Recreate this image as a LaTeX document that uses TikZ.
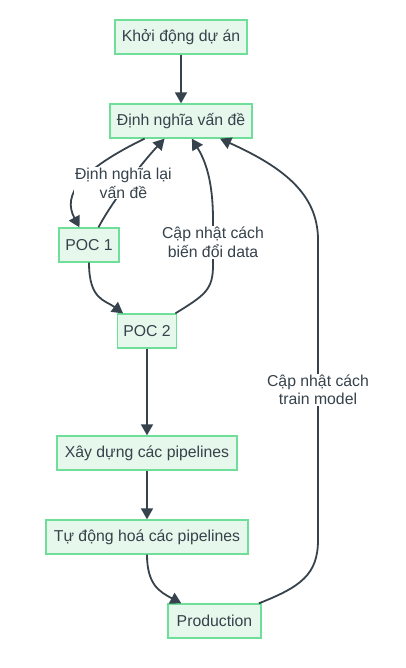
\documentclass[tikz,border=0pt]{standalone}
\usepackage{fontspec}
\setmainfont{Liberation Sans}
\usetikzlibrary{calc}
\usetikzlibrary{arrows.meta}
\definecolor{boxline}{RGB}{110,222,152}
\definecolor{boxfill}{RGB}{230,248,235}
\definecolor{ink}{RGB}{54,66,76}
\tikzset{
 box/.style={draw=boxline, fill=boxfill, line width=1.3pt, text=ink, minimum height=34pt, inner xsep=2pt, font=\fontsize{15.8}{18.5}\selectfont},
 lbl/.style={fill=white, text=ink, align=center, inner sep=1pt, font=\fontsize{15.8}{18.5}\selectfont},
 flow/.style={draw=ink, line width=1.8pt, -{Triangle[length=11pt,width=12pt]}}
}
\begin{document}
\begin{tikzpicture} [x=1pt, y=-1pt]
\useasboundingbox (0,0) rectangle (406,668);
\node[box, minimum width=132pt] (start) at (181,37) {Khởi động dự án};
\node[box, minimum width=142pt] (define) at (181,121) {Định nghĩa vấn đề};
\node[box, minimum width=60pt] (poc1) at (89,245) {POC 1};
\node[box, minimum width=59pt] (poc2) at (147,331) {POC 2};
\node[box, minimum width=180pt] (build) at (147,453) {Xây dựng các pipelines};
\node[box, minimum width=202pt] (auto) at (147,537) {Tự động hoá các pipelines};
\node[box, minimum width=93pt] (prod) at (214.5,621) {Production};
\draw[flow] (start) -- (define);
\draw[flow] (define) .. controls (80,170) and (62,195) .. (poc1);
\draw[flow] (poc1) .. controls (112,202) and (140,165) .. (define) node[lbl, pos=0.5, xshift=-4pt]{Định nghĩa lại\\vấn đề};
\draw[flow] (poc1) .. controls (89,300) and (105,300) .. (poc2);
\draw[flow] (poc2) .. controls (205,295) and (213,290) .. (213,265) -- (213,220) node[lbl, midway]{Cập nhật cách\\biến đổi data} .. controls (213,180) and (205,160) .. (define);
\draw[flow] (poc2) -- (build);
\draw[flow] (build) -- (auto);
\draw[flow] (auto) .. controls (147,585) and (160,592) .. (prod);
\draw[flow] (prod) .. controls (300,587) and (318,575) .. (318,540) -- (318,240) node[lbl, midway]{Cập nhật cách\\train model} .. controls (318,195) and (285,168) .. (define);
\end{tikzpicture}
\end{document}
